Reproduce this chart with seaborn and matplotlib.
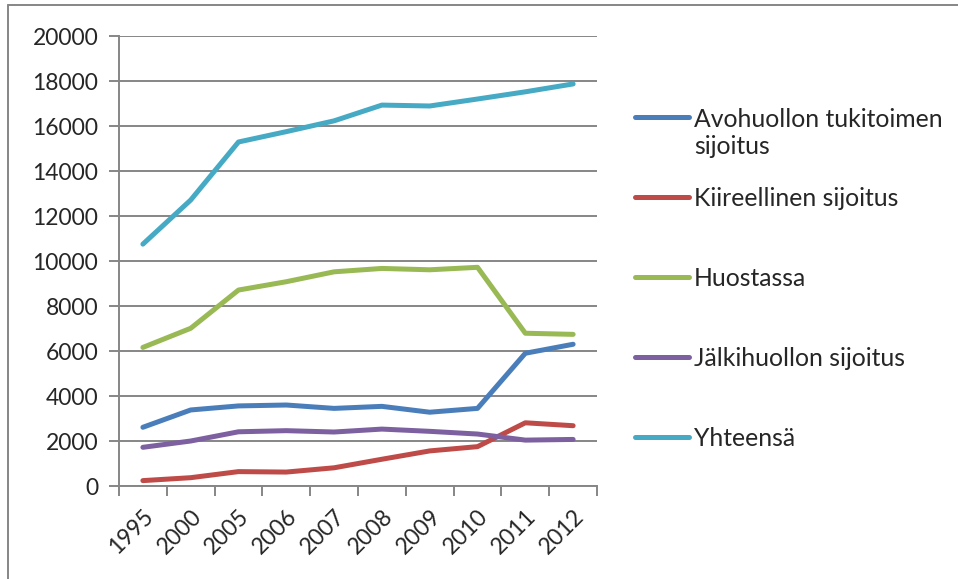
import pandas as pd
import matplotlib.pyplot as plt
import matplotlib.lines as mlines
from matplotlib.legend_handler import HandlerLine2D
import seaborn as sns

# Vuodet (luokka-akseli)
vuodet = ["1995", "2000", "2005", "2006", "2007", "2008", "2009", "2010", "2011", "2012"]

# Sarjat luettu kuvasta
avohuolto = [2610, 3380, 3560, 3600, 3450, 3540, 3280, 3450, 5900, 6300]
kiireellinen = [240, 370, 640, 620, 810, 1190, 1560, 1750, 2810, 2680]
huostassa = [6160, 7010, 8710, 9080, 9520, 9670, 9610, 9720, 6790, 6740]
jalkihuolto = [1720, 2000, 2410, 2460, 2400, 2530, 2430, 2310, 2040, 2070]
yhteensa = [10750, 12710, 15290, 15750, 16230, 16930, 16890, 17200, 17520, 17870]

sarjat = [
    "Avohuollon tukitoimen\nsijoitus",
    "Kiireellinen sijoitus",
    "Huostassa",
    "Jälkihuollon sijoitus",
    "Yhteensä",
]
arvot = [avohuolto, kiireellinen, huostassa, jalkihuolto, yhteensa]
varit = ["#4A7EBB", "#BE4B48", "#98B954", "#7D60A0", "#46AAC5"]

# Pitkä taulukko seabornille
df = pd.concat(
    [pd.DataFrame({"VUOSI": vuodet, "MAARA": a, "SARJA": s}) for s, a in zip(sarjat, arvot)],
    ignore_index=True,
)


# Selitteen viiva ensimmäisen tekstirivin kohdalle
class YlempiViiva(HandlerLine2D):
    def create_artists(self, legend, orig_handle, xdescent, ydescent,
                       width, height, fontsize, trans):
        return super().create_artists(legend, orig_handle, xdescent, ydescent - 24,
                                      width, height, fontsize, trans)


sns.set_style("white")
plt.rcParams["font.family"] = ["Lato", "DejaVu Sans"]

fig = plt.figure(figsize=(9.58, 5.79), dpi=100)
ax = fig.add_axes([0.1242, 0.1606, 0.499, 0.7772])

sns.lineplot(
    data=df, x="VUOSI", y="MAARA", hue="SARJA", palette=varit,
    linewidth=3.6, ax=ax, sort=False, legend=False,
)
for l in ax.lines:
    l.set_solid_capstyle("round")
    l.set_solid_joinstyle("round")

harmaa = "#868686"
ax.set_xlim(-0.5, len(vuodet) - 0.5)
ax.set_ylim(0, 20000)
ax.set_yticks(range(0, 20001, 2000))
ax.yaxis.grid(True, color=harmaa, linewidth=1.4)
ax.set_axisbelow(True)
ax.set_xlabel("")
ax.set_ylabel("")

for s in ["top", "right"]:
    ax.spines[s].set_visible(False)
for s in ["left", "bottom"]:
    ax.spines[s].set_color(harmaa)
    ax.spines[s].set_linewidth(1.4)

ax.tick_params(axis="y", length=7, width=1.4, color=harmaa, labelsize=16.5, pad=8, left=True)
ax.set_xticks(range(len(vuodet)))
ax.set_xticklabels(vuodet, rotation=45, ha="right", rotation_mode="anchor")
ax.tick_params(axis="x", which="major", length=0, labelsize=16.5, pad=14)
ax.set_xticks([i - 0.5 for i in range(len(vuodet) + 1)], minor=True)
ax.tick_params(axis="x", which="minor", length=7, width=1.4, color=harmaa, bottom=True)

# Selite kahdessa osassa
kahvat = [mlines.Line2D([], [], color=c, linewidth=3.6, solid_capstyle="round") for c in varit]
yhteiset = dict(
    loc="upper left", frameon=False, fontsize=17.8, handlelength=2.2,
    handletextpad=0.18, borderpad=0, borderaxespad=0,
)
fig.legend(
    kahvat[:1], sarjat[:1], bbox_to_anchor=(635 / 958, 1 - 108 / 579),
    handler_map={kahvat[0]: YlempiViiva()}, **yhteiset,
)
fig.legend(
    kahvat[1:], sarjat[1:], bbox_to_anchor=(635 / 958, 1 - 187 / 579),
    labelspacing=2.3, **yhteiset,
)

# Kehys kuvan ympärillä
fig.add_artist(mlines.Line2D([8 / 958, 1], [1 - 5 / 579, 1 - 5 / 579], color=harmaa, linewidth=1.4))
fig.add_artist(mlines.Line2D([8 / 958, 8 / 958], [0, 1 - 5 / 579], color=harmaa, linewidth=1.4))

plt.savefig("out.png", dpi=100)
